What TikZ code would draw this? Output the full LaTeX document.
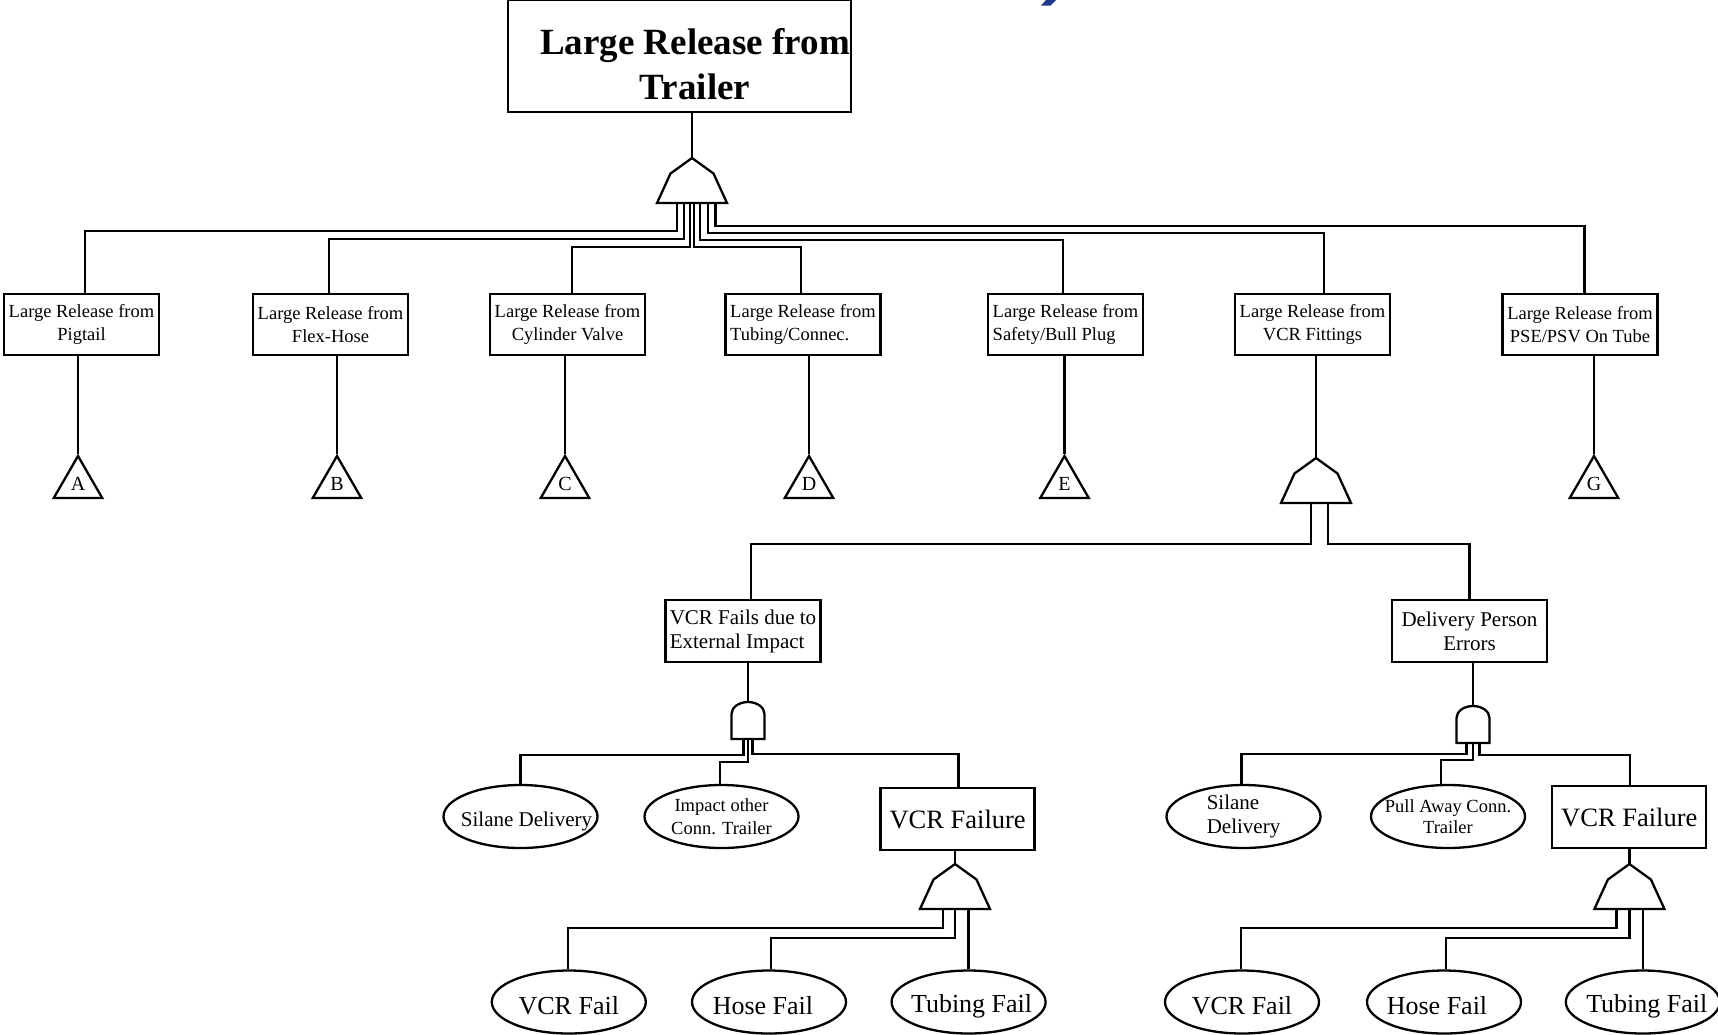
\documentclass[tikz,border=0pt]{standalone}
\usepackage{fontspec}
\setmainfont{Liberation Serif}
\usetikzlibrary{shapes.geometric}
\definecolor{titleblue}{RGB}{31,56,140}

\tikzset{
  wire/.style={line width=2.3pt, line join=miter},
  evbox/.style={draw, line width=2.3pt, rectangle, inner sep=0pt,
    minimum width=155pt, minimum height=61pt},
  lvlone/.style={evbox, font=\fontsize{18.5}{23}\selectfont, align=center},
  midbox/.style={evbox, minimum height=62pt, font=\fontsize{21}{24}\selectfont},
  failbox/.style={evbox, minimum width=154pt, minimum height=62pt,
    font=\fontsize{26.5}{30}\selectfont},
  basic/.style={draw, ellipse, line width=2.3pt, inner sep=0pt,
    minimum width=154pt, minimum height=63pt},
  transfer/.style={draw, line width=2.3pt, regular polygon,
    regular polygon sides=3, minimum size=56pt, inner sep=0pt,
    font=\fontsize{20}{24}\selectfont},
  topfont/.style={font=\fontsize{37}{45}\selectfont\bfseries, align=center},
  ftwentyone/.style={font=\fontsize{21}{24}\selectfont},
  feighteen/.style={font=\fontsize{18.5}{23}\selectfont, align=center},
  ftwentysix/.style={font=\fontsize{26}{30}\selectfont},
  orgate/.pic={
    \draw[wire] (0,0) -- (21.5,15.5) -- (35,45) -- (-35,45) -- (-21.5,15.5) -- cycle;
    \coordinate (-apex) at (0,0);
    \coordinate (-base) at (0,45);
  },
  andgate/.pic={
    \draw[wire] (-16.5,37) -- (-16.5,12)
      arc[start angle=180, end angle=0, x radius=16.5pt, y radius=12pt]
      -- (16.5,37) -- cycle;
    \coordinate (-apex) at (0,0);
    \coordinate (-base) at (0,37);
  }
}

\begin{document}
\begin{tikzpicture}[x=1pt, y=-1pt]
\useasboundingbox (0,0) rectangle (1718,1034);
\fill[white] (0,0) rectangle (1718,1034);

% fragment of the heading above the tree
\fill[titleblue] (1041,5.5) -- (1050.5,5.5) -- (1057,-1) -- (1047,-1) -- cycle;

% top event
\node[evbox, minimum width=343pt, minimum height=112pt,
  label={[topfont, xshift=15.5pt, yshift=-8.5pt]center:Large Release from\\Trailer}]
  (top) at (679.5,56) {};

% gates
\pic (g0) at (692,158) {orgate};
\pic (g1) at (1316,458) {orgate};
\pic (g2) at (955,864) {orgate};
\pic (g3) at (1629.4,864) {orgate};
\pic (a1) at (748,702) {andgate};
\pic (a2) at (1473,706) {andgate};

% first level events
\node[lvlone] (pig) at (81.5,324.5) {Large Release from\\Pigtail};
\node[lvlone] (flex) at (330.5,324.5) {Large Release from\\Flex-Hose};
\node[lvlone] (cyl) at (567.5,324.5) {Large Release from\\Cylinder Valve};
\node[lvlone, align=left] (tub) at (803,324.5) {Large Release from\\Tubing/Connec.};
\node[lvlone, align=left] (saf) at (1065.5,324.5) {Large Release from\\Safety/Bull Plug};
\node[lvlone] (vcrf) at (1312.5,324.5) {Large Release from\\VCR Fittings};
\node[lvlone] (pse) at (1580,324.5) {Large Release from\\PSE/PSV On Tube};

% transfer symbols
\node[transfer] (trA) at (78,484) {A};
\node[transfer] (trB) at (337,484) {B};
\node[transfer] (trC) at (565,484) {C};
\node[transfer] (trD) at (809,484) {D};
\node[transfer] (trE) at (1064.5,484) {E};
\node[transfer] (trG) at (1594,484) {G};

% second level
\node[midbox, align=left] (ext) at (743,631) {VCR Fails due to\\External Impact};
\node[midbox, align=center] (del) at (1469.5,631) {Delivery Person\\Errors};

% third level
\node[basic, label={[ftwentyone, xshift=6pt, yshift=-4.5pt]center:Silane Delivery}]
  (sil1) at (520.5,816.5) {};
\node[basic, label={[feighteen]center:Impact other\\Conn. Trailer}]
  (imp) at (721.5,816.5) {};
\node[failbox] (vf1) at (957.6,819) {VCR Failure};
\node[basic, label={[ftwentyone, align=left]center:Silane\\Delivery}]
  (sil2) at (1243.5,816.5) {};
\node[basic, label={[feighteen, font=\fontsize{18.5}{20.5}\selectfont]center:Pull Away Conn.\\Trailer}]
  (pull) at (1448,816.5) {};
\node[failbox] (vf2) at (1629.3,817) {VCR Failure};

% basic failures
\node[basic, label={[ftwentysix, yshift=-4pt]center:VCR Fail}] (vfa) at (568.8,1002) {};
\node[basic, label={[ftwentysix, xshift=-6pt, yshift=-4pt]center:Hose Fail}] (hfa) at (769,1002) {};
\node[basic, label={[ftwentysix, xshift=3pt, yshift=-4pt]center:Tubing Fail}] (tfa) at (968.6,1002) {};
\node[basic, label={[ftwentysix, yshift=-4pt]center:VCR Fail}] (vfb) at (1242,1002) {};
\node[basic, label={[ftwentysix, xshift=-7pt, yshift=-4pt]center:Hose Fail}] (hfb) at (1444,1002) {};
\node[basic, label={[ftwentysix, xshift=4pt, yshift=-4pt]center:Tubing Fail}] (tfb) at (1642.8,1002) {};

% top event to its gate
\draw[wire] (g0-apex |- top.south) -- (g0-apex);
\draw[wire] ([xshift=-15pt]g0-base) -- ++(0,28) -| ([xshift=3.5pt]pig.north);
\draw[wire] ([xshift=-8pt]g0-base) -- ++(0,36) -| ([xshift=-1.5pt]flex.north);
\draw[wire] ([xshift=-2pt]g0-base) -- ++(0,44) -| ([xshift=4.5pt]cyl.north);
\draw[wire] ([xshift=2pt]g0-base) -- ++(0,44) -| ([xshift=-2pt]tub.north);
\draw[wire] ([xshift=8pt]g0-base) -- ++(0,37) -| ([xshift=-2.5pt]saf.north);
\draw[wire] ([xshift=16pt]g0-base) -- ++(0,30) -| ([xshift=11.5pt]vcrf.north);
\draw[wire] ([xshift=23.5pt]g0-base) -- ++(0,23) -| ([xshift=4.5pt]pse.north);

% first level to transfers
\draw[wire] (trA.north |- pig.south) -- (trA.north);
\draw[wire] (trB.north |- flex.south) -- (trB.north);
\draw[wire] (trC.north |- cyl.south) -- (trC.north);
\draw[wire] (trD.north |- tub.south) -- (trD.north);
\draw[wire] (trE.north |- saf.south) -- (trE.north);
\draw[wire] (trG.north |- pse.south) -- (trG.north);

% VCR fittings branch
\draw[wire] (g1-apex |- vcrf.south) -- (g1-apex);
\draw[wire] ([xshift=-5pt]g1-base) -- ++(0,41) -| ([xshift=8pt]ext.north);
\draw[wire] ([xshift=12pt]g1-base) -- ++(0,41) -| (del.north);

% external impact branch
\draw[wire] (a1-apex |- ext.south) -- (a1-apex);
\draw[wire] ([xshift=-4.5pt]a1-base) -- ++(0,16) -| (sil1.north);
\draw[wire] (a1-base) -- ++(0,23) -| ([xshift=-1.5pt]imp.north);
\draw[wire] ([xshift=4.5pt]a1-base) -- ++(0,15) -| ([xshift=1pt]vf1.north);

% delivery person branch
\draw[wire] (a2-apex |- del.south) -- (a2-apex);
\draw[wire] ([xshift=-6.5pt]a2-base) -- ++(0,11) -| ([xshift=-2pt]sil2.north);
\draw[wire] (a2-base) -- ++(0,17) -| ([xshift=-7pt]pull.north);
\draw[wire] ([xshift=6.5pt]a2-base) -- ++(0,12) -| ([xshift=1pt]vf2.north);

% VCR failure gates
\draw[wire] (g2-apex |- vf1.south) -- (g2-apex);
\draw[wire] ([xshift=-12pt]g2-base) -- ++(0,19) -| ([xshift=-1pt]vfa.north);
\draw[wire] (g2-base) -- ++(0,29) -| ([xshift=2pt]hfa.north);
\draw[wire] (tfa.north |- g2-base) -- (tfa.north);

\draw[wire] (g3-apex |- vf2.south) -- (g3-apex);
\draw[wire] ([xshift=-13pt]g3-base) -- ++(0,19) -| ([xshift=-1pt]vfb.north);
\draw[wire] (g3-base) -- ++(0,29) -| ([xshift=2pt]hfb.north);
\draw[wire] (tfb.north |- g3-base) -- (tfb.north);
\end{tikzpicture}
\end{document}
